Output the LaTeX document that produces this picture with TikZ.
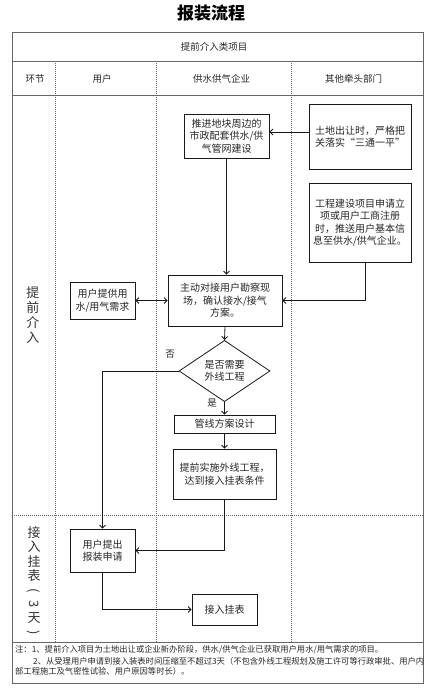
\documentclass[tikz,border=0pt]{standalone}
\usepackage{fontspec}
\setmainfont{Noto Sans CJK SC}
\usetikzlibrary{arrows.meta,shapes.geometric,calc}
\begin{document}
\begin{tikzpicture}[x=1pt,y=-1pt,
  box/.style={draw=black!90, line width=0.8pt, align=center, inner sep=0pt,
    font=\fontsize{10}{12.5}\selectfont, text=black!85},
  arr/.style={-{Straight Barb[length=3pt,width=6pt]}, line width=0.8pt, black!90},
  dbl/.style={{Straight Barb[length=3pt,width=6pt]}-{Straight Barb[length=3pt,width=6pt]}, line width=0.8pt, black!90},
  tbl/.style={draw=black!60, line width=1pt},
  dotl/.style={black!60, line width=0.6pt, dash pattern=on 1pt off 1pt},
  lbl/.style={font=\fontsize{9.5}{11}\selectfont, text=black!85, inner sep=0pt},
  phase/.style={font=\fontsize{13}{15}\selectfont, text=black!80, align=center, inner sep=0pt},
  note/.style={font=\fontsize{8.3}{10.5}\selectfont, text=black!85, inner sep=0pt, anchor=west}]
\useasboundingbox (0,0) rectangle (432,689);
% title
\node[font=\fontsize{17}{20}\selectfont\bfseries] (title) at (211,13) {报装流程};
% table
\draw[tbl] (12,32) rectangle (423,683);
\draw[tbl] (12,61) -- (423,61);
\draw[tbl] (12,95) -- (423,95);
\draw[tbl] (12,642) -- (423,642);
\draw[dotl] (55,61) -- (55,642);
\draw[dotl] (156,61) -- (156,642);
\draw[dotl] (291,61) -- (291,642);
\draw[dotl] (12,515) -- (423,515);
% headers
\node[lbl] (hdr) at (214,47) {提前介入类项目};
\node[lbl] (h1) at (35,79) {环节};
\node[lbl] (h2) at (102,79) {用户};
\node[lbl] (h3) at (221.5,79) {供水供气企业};
\node[lbl] (h4) at (353.5,79) {其他牵头部门};
% phase labels
\node[phase] (p1) at (33,315.5) {提\\前\\介\\入};
\node[phase, font=\fontsize{13}{14.2}\selectfont] (p2) at (34,582) {接\\入\\挂\\表\\\rotatebox[origin=c]{-90}{(}\\\rotatebox[origin=c]{-90}{3}\\天\\\rotatebox[origin=c]{-90}{)}};
% nodes
\node[box, minimum width=85pt, minimum height=44pt] (n1) at (226.5,136) {推进地块周边的\\市政配套供水/供\\气管网建设};
\node[box, minimum width=102pt, minimum height=65pt, align=left] (n2) at (360,136.5) {土地出让时，严格把\\关落实“三通一平”};
\node[box, minimum width=102pt, minimum height=79pt] (n3) at (360,222.5) {工程建设项目申请立\\项或用户工商注册\\时，推送用户基本信\\息至供水/供气企业。};
\node[box, minimum width=114pt, minimum height=51pt] (n4) at (225,300.5) {主动对接用户勘察现\\场，确认接水/接气\\方案。};
\node[box, minimum width=65pt, minimum height=37pt] (n5) at (102.5,300.5) {用户提供用\\水/用气需求};
\node[box, diamond, minimum width=91pt, minimum height=48pt] (d) at (224.5,371) {是否需要\\外线工程};
\node[box, minimum width=101pt, minimum height=18pt] (n7) at (224.5,424) {管线方案设计};
\node[box, minimum width=103pt, minimum height=50pt] (n8) at (224.5,474) {提前实施外线工程，\\达到接入挂表条件};
\node[box, minimum width=65pt, minimum height=43pt] (n9) at (102.5,550.5) {用户提出\\报装申请};
\node[box, minimum width=65pt, minimum height=31pt] (n10) at (224.5,609.5) {接入挂表};
% labels
\node[lbl] (no) at (170,354) {否};
\node[lbl] (yes) at (212,403) {是};
% connectors
\coordinate (r132) at (0,132);
\draw[arr] (n2.west |- r132) -- (n1.east |- r132);
\draw[arr] (n1.south) -- (n1.south |- n4.north);
\draw[arr] ($(n3.south)+(5,0)$) |- (n4.east);
\draw[dbl] (n5.east) -- (n4.west);
\draw[arr] (n4.south) -- (d.north);
\draw[arr] (d.west) -| (n9.north);
\draw[arr] (d.south) -- (n7.north);
\draw[arr] (n7.south) -- (n8.north);
\draw[arr] (n8.south) |- (n9.east);
\draw[arr] (n9.south) |- (n10.west);
% notes
\node[note] (t1) at (15,650) {注：1、提前介入项目为土地出让或企业新办阶段，供水/供气企业已获取用户用水/用气需求的项目。};
\node[note] (t2) at (33,661) {2、从受理用户申请到接入装表时间压缩至不超过3天（不包含外线工程规划及施工许可等行政审批、用户内};
\node[note] (t3) at (15,671.5) {部工程施工及气密性试验、用户原因等时长）。};
\end{tikzpicture}
\end{document}
